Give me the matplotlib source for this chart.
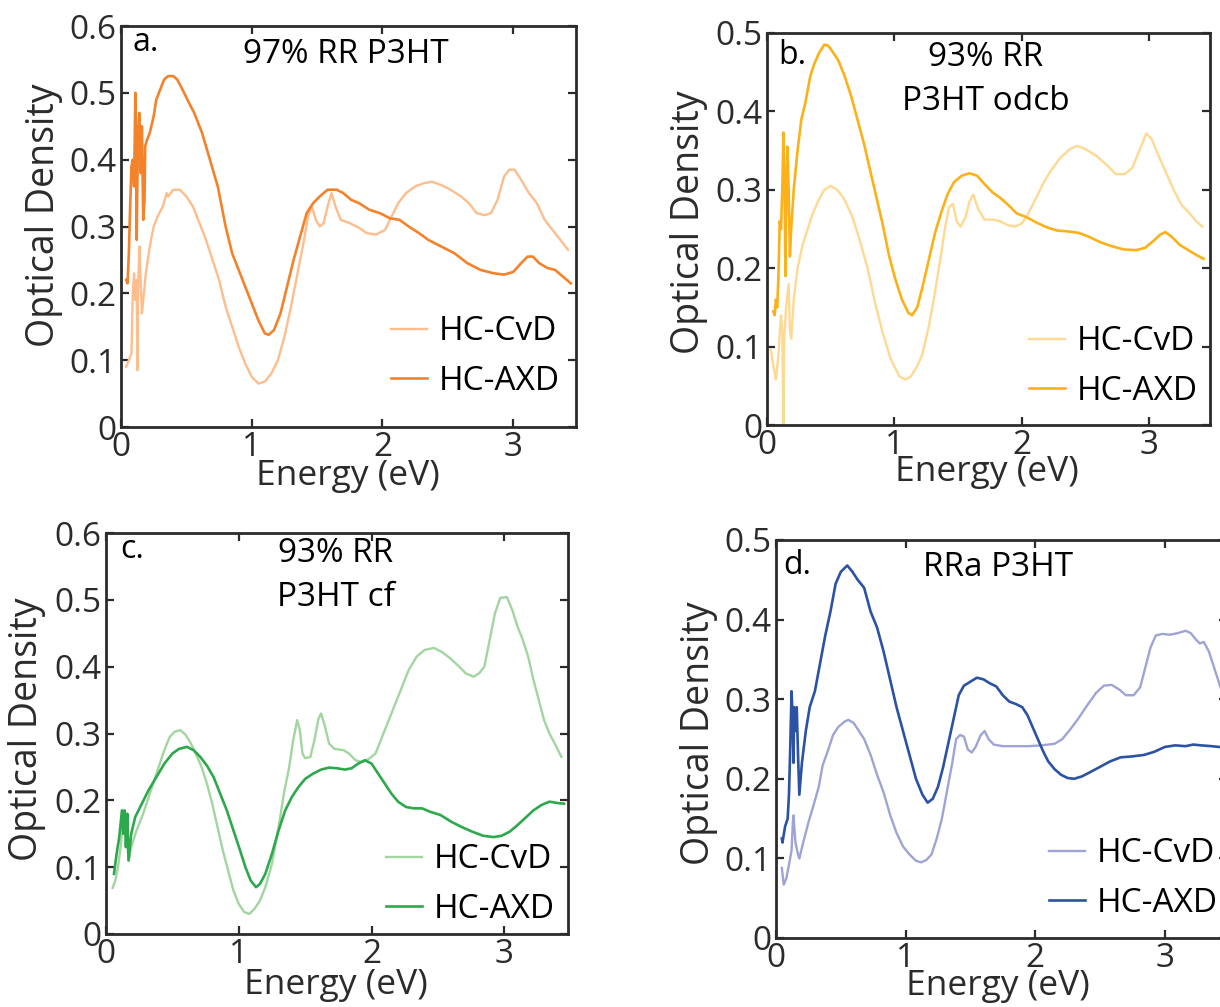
import matplotlib
matplotlib.use("Agg")
import matplotlib.pyplot as plt
from matplotlib.ticker import FuncFormatter

plt.rcParams['font.family'] = ['Open Sans', 'DejaVu Sans']

# ---- spectra (energy in eV, optical density) ----
a_cvd_e = [0.04, 0.06, 0.08, 0.09, 0.10, 0.11, 0.12, 0.125, 0.13, 0.14, 0.15, 0.16, 0.17, 0.19, 0.22,
           0.25, 0.28, 0.32, 0.35, 0.36, 0.40, 0.45, 0.50, 0.55, 0.60, 0.65, 0.70, 0.75, 0.80, 0.85,
           0.90, 0.95, 1.00, 1.05, 1.10, 1.15, 1.20, 1.25, 1.30, 1.35, 1.40, 1.43, 1.46, 1.49, 1.52,
           1.55, 1.58, 1.61, 1.64, 1.68, 1.75, 1.82, 1.88, 1.95, 2.02, 2.07, 2.12, 2.18, 2.25, 2.32,
           2.38, 2.45, 2.52, 2.60, 2.66, 2.72, 2.78, 2.83, 2.88, 2.93, 2.97, 3.01, 3.06, 3.12, 3.18,
           3.24, 3.30, 3.36, 3.42]
a_cvd_od = [0.09, 0.10, 0.11, 0.20, 0.23, 0.19, 0.22, 0.085, 0.20, 0.27, 0.22, 0.17, 0.19, 0.23, 0.27,
            0.30, 0.315, 0.33, 0.35, 0.345, 0.355, 0.355, 0.345, 0.33, 0.305, 0.28, 0.25, 0.22, 0.18, 0.15,
            0.12, 0.095, 0.075, 0.065, 0.068, 0.08, 0.10, 0.135, 0.18, 0.23, 0.28, 0.315, 0.33, 0.31, 0.30,
            0.305, 0.33, 0.35, 0.33, 0.31, 0.305, 0.298, 0.29, 0.288, 0.295, 0.315, 0.335, 0.35, 0.36, 0.365,
            0.367, 0.362, 0.355, 0.345, 0.335, 0.32, 0.317, 0.32, 0.34, 0.375, 0.385, 0.385, 0.37, 0.35, 0.335,
            0.31, 0.295, 0.28, 0.265]

a_axd_e = [0.04, 0.05, 0.06, 0.07, 0.08, 0.09, 0.10, 0.11, 0.115, 0.12, 0.13, 0.14, 0.15, 0.16, 0.17,
           0.18, 0.185, 0.20, 0.22, 0.25, 0.27, 0.30, 0.33, 0.36, 0.40, 0.43, 0.47, 0.52, 0.56, 0.62,
           0.68, 0.74, 0.80, 0.85, 0.90, 0.95, 1.00, 1.05, 1.10, 1.13, 1.17, 1.22, 1.27, 1.32, 1.37,
           1.42, 1.47, 1.52, 1.58, 1.65, 1.70, 1.76, 1.82, 1.90, 1.98, 2.06, 2.13, 2.20, 2.28, 2.35,
           2.45, 2.55, 2.65, 2.75, 2.85, 2.93, 3.00, 3.06, 3.11, 3.15, 3.20, 3.26, 3.32, 3.38, 3.44]
a_axd_od = [0.22, 0.215, 0.26, 0.33, 0.39, 0.40, 0.36, 0.50, 0.42, 0.28, 0.44, 0.47, 0.38, 0.45, 0.31,
            0.34, 0.42, 0.43, 0.44, 0.465, 0.49, 0.505, 0.52, 0.525, 0.525, 0.52, 0.505, 0.485, 0.47, 0.44,
            0.40, 0.36, 0.30, 0.26, 0.235, 0.21, 0.185, 0.16, 0.14, 0.138, 0.145, 0.17, 0.21, 0.25, 0.285,
            0.32, 0.335, 0.345, 0.355, 0.355, 0.35, 0.34, 0.335, 0.325, 0.32, 0.312, 0.31, 0.30, 0.29, 0.28,
            0.27, 0.26, 0.245, 0.235, 0.23, 0.228, 0.232, 0.245, 0.255, 0.255, 0.245, 0.238, 0.235, 0.225, 0.215]

b_cvd_e = [0.03, 0.05, 0.07, 0.09, 0.10, 0.11, 0.12, 0.13, 0.135, 0.15, 0.17, 0.18, 0.19, 0.21, 0.24,
           0.28, 0.32, 0.36, 0.40, 0.45, 0.50, 0.55, 0.60, 0.67, 0.73, 0.79, 0.85, 0.91, 0.97, 1.04,
           1.09, 1.13, 1.18, 1.22, 1.27, 1.31, 1.36, 1.40, 1.43, 1.46, 1.49, 1.52, 1.56, 1.59, 1.62,
           1.66, 1.71, 1.77, 1.83, 1.89, 1.95, 2.00, 2.04, 2.10, 2.16, 2.22, 2.30, 2.38, 2.44, 2.50,
           2.59, 2.66, 2.74, 2.81, 2.87, 2.93, 2.98, 3.02, 3.08, 3.14, 3.20, 3.26, 3.32, 3.37, 3.42]
b_cvd_od = [0.096, 0.075, 0.058, 0.09, 0.115, 0.14, 0.12, 0.0, 0.11, 0.15, 0.18, 0.12, 0.11, 0.16, 0.20,
            0.23, 0.25, 0.27, 0.285, 0.30, 0.305, 0.30, 0.29, 0.266, 0.235, 0.20, 0.155, 0.117, 0.085, 0.062,
            0.058, 0.062, 0.075, 0.09, 0.125, 0.16, 0.21, 0.253, 0.278, 0.282, 0.26, 0.253, 0.265, 0.285, 0.294,
            0.275, 0.262, 0.262, 0.26, 0.255, 0.253, 0.257, 0.266, 0.285, 0.305, 0.322, 0.34, 0.352, 0.356, 0.352,
            0.343, 0.333, 0.32, 0.32, 0.328, 0.352, 0.372, 0.365, 0.342, 0.32, 0.298, 0.28, 0.27, 0.26, 0.253]

b_axd_e = [0.05, 0.06, 0.07, 0.08, 0.09, 0.10, 0.11, 0.12, 0.13, 0.14, 0.145, 0.15, 0.16, 0.17, 0.18,
           0.19, 0.21, 0.24, 0.27, 0.30, 0.34, 0.37, 0.41, 0.45, 0.48, 0.52, 0.56, 0.61, 0.66, 0.71,
           0.76, 0.81, 0.86, 0.91, 0.96, 1.01, 1.06, 1.11, 1.14, 1.18, 1.22, 1.27, 1.32, 1.37, 1.42,
           1.47, 1.53, 1.59, 1.65, 1.71, 1.77, 1.83, 1.90, 1.96, 2.04, 2.12, 2.20, 2.28, 2.36, 2.45,
           2.53, 2.62, 2.71, 2.80, 2.90, 2.97, 3.03, 3.09, 3.13, 3.18, 3.24, 3.30, 3.36, 3.43]
b_axd_od = [0.145, 0.14, 0.16, 0.15, 0.19, 0.26, 0.25, 0.30, 0.373, 0.28, 0.19, 0.27, 0.355, 0.30, 0.215,
            0.25, 0.30, 0.35, 0.39, 0.41, 0.445, 0.46, 0.475, 0.485, 0.484, 0.475, 0.465, 0.445, 0.42, 0.39,
            0.36, 0.325, 0.29, 0.255, 0.215, 0.185, 0.16, 0.143, 0.14, 0.15, 0.175, 0.21, 0.245, 0.272, 0.295,
            0.31, 0.318, 0.321, 0.318, 0.307, 0.297, 0.29, 0.28, 0.27, 0.265, 0.258, 0.252, 0.248, 0.247, 0.245,
            0.24, 0.233, 0.228, 0.224, 0.223, 0.226, 0.234, 0.243, 0.246, 0.24, 0.23, 0.224, 0.218, 0.212]

c_cvd_e = [0.05, 0.07, 0.09, 0.11, 0.13, 0.14, 0.15, 0.17, 0.19, 0.23, 0.28, 0.33, 0.38, 0.43, 0.48,
           0.52, 0.56, 0.60, 0.64, 0.68, 0.72, 0.76, 0.80, 0.84, 0.88, 0.92, 0.96, 1.00, 1.04, 1.08,
           1.12, 1.16, 1.20, 1.25, 1.30, 1.34, 1.38, 1.41, 1.44, 1.46, 1.48, 1.50, 1.54, 1.57, 1.60,
           1.62, 1.65, 1.68, 1.72, 1.79, 1.83, 1.88, 1.93, 1.98, 2.03, 2.08, 2.15, 2.22, 2.28, 2.34,
           2.40, 2.47, 2.53, 2.59, 2.65, 2.71, 2.77, 2.81, 2.85, 2.89, 2.93, 2.97, 3.02, 3.06, 3.10,
           3.14, 3.18, 3.22, 3.26, 3.30, 3.34, 3.38, 3.43]
c_cvd_od = [0.069, 0.08, 0.10, 0.13, 0.17, 0.15, 0.165, 0.11, 0.13, 0.155, 0.18, 0.21, 0.24, 0.27, 0.295,
            0.303, 0.305, 0.298, 0.285, 0.268, 0.25, 0.225, 0.195, 0.16, 0.125, 0.095, 0.065, 0.045, 0.033, 0.03,
            0.038, 0.05, 0.07, 0.105, 0.16, 0.21, 0.25, 0.29, 0.32, 0.305, 0.27, 0.263, 0.265, 0.29, 0.322,
            0.33, 0.31, 0.285, 0.277, 0.275, 0.27, 0.26, 0.257, 0.262, 0.27, 0.295, 0.33, 0.365, 0.395, 0.415,
            0.425, 0.428, 0.422, 0.413, 0.402, 0.39, 0.385, 0.39, 0.40, 0.44, 0.48, 0.503, 0.504, 0.485, 0.46,
            0.44, 0.415, 0.38, 0.35, 0.32, 0.30, 0.285, 0.265]

c_axd_e = [0.06, 0.08, 0.10, 0.12, 0.13, 0.14, 0.15, 0.16, 0.17, 0.19, 0.22, 0.27, 0.32, 0.38, 0.44,
           0.50, 0.55, 0.61, 0.66, 0.71, 0.76, 0.81, 0.86, 0.91, 0.96, 1.01, 1.05, 1.09, 1.13, 1.16,
           1.20, 1.25, 1.30, 1.35, 1.40, 1.45, 1.50, 1.56, 1.62, 1.68, 1.74, 1.80, 1.85, 1.90, 1.95,
           2.00, 2.05, 2.10, 2.15, 2.20, 2.26, 2.32, 2.38, 2.44, 2.52, 2.60, 2.68, 2.76, 2.84, 2.92,
           2.98, 3.04, 3.10, 3.16, 3.22, 3.28, 3.34, 3.40, 3.45]
c_axd_od = [0.09, 0.12, 0.145, 0.185, 0.15, 0.185, 0.13, 0.18, 0.11, 0.15, 0.175, 0.195, 0.215, 0.235, 0.255,
            0.27, 0.277, 0.28, 0.275, 0.265, 0.252, 0.235, 0.21, 0.185, 0.155, 0.125, 0.10, 0.08, 0.07, 0.075,
            0.09, 0.12, 0.155, 0.185, 0.205, 0.22, 0.232, 0.24, 0.246, 0.249, 0.248, 0.246, 0.248, 0.255, 0.26,
            0.255, 0.24, 0.225, 0.21, 0.198, 0.19, 0.188, 0.188, 0.183, 0.178, 0.168, 0.16, 0.153, 0.147, 0.145,
            0.147, 0.153, 0.163, 0.174, 0.185, 0.193, 0.198, 0.196, 0.195]

d_cvd_e = [0.045, 0.06, 0.08, 0.10, 0.12, 0.13, 0.135, 0.15, 0.17, 0.18, 0.21, 0.25, 0.29, 0.33, 0.36,
           0.40, 0.44, 0.48, 0.53, 0.56, 0.60, 0.64, 0.68, 0.73, 0.78, 0.83, 0.88, 0.93, 0.98, 1.03,
           1.08, 1.12, 1.16, 1.20, 1.24, 1.28, 1.32, 1.36, 1.39, 1.42, 1.45, 1.48, 1.51, 1.54, 1.58,
           1.61, 1.64, 1.68, 1.75, 1.85, 1.95, 2.05, 2.15, 2.21, 2.27, 2.33, 2.40, 2.47, 2.53, 2.59,
           2.65, 2.70, 2.76, 2.81, 2.85, 2.89, 2.93, 2.98, 3.04, 3.10, 3.16, 3.20, 3.24, 3.27, 3.30,
           3.34, 3.38, 3.42, 3.45]
d_cvd_od = [0.088, 0.067, 0.075, 0.092, 0.11, 0.145, 0.154, 0.12, 0.105, 0.10, 0.12, 0.145, 0.167, 0.19, 0.217,
            0.235, 0.255, 0.265, 0.272, 0.274, 0.27, 0.26, 0.25, 0.23, 0.205, 0.183, 0.155, 0.132, 0.115, 0.105,
            0.097, 0.095, 0.098, 0.105, 0.125, 0.15, 0.185, 0.22, 0.25, 0.255, 0.253, 0.237, 0.233, 0.24, 0.255,
            0.26, 0.25, 0.243, 0.241, 0.241, 0.241, 0.242, 0.244, 0.25, 0.262, 0.275, 0.292, 0.308, 0.317, 0.318,
            0.312, 0.305, 0.305, 0.315, 0.34, 0.365, 0.38, 0.382, 0.381, 0.383, 0.386, 0.383, 0.375, 0.37, 0.372,
            0.36, 0.34, 0.32, 0.305]

d_axd_e = [0.045, 0.05, 0.07, 0.09, 0.10, 0.11, 0.12, 0.13, 0.135, 0.14, 0.15, 0.16, 0.17, 0.18, 0.20,
           0.23, 0.26, 0.30, 0.34, 0.38, 0.42, 0.46, 0.50, 0.55, 0.59, 0.63, 0.68, 0.73, 0.78, 0.83,
           0.88, 0.93, 0.98, 1.03, 1.08, 1.13, 1.17, 1.21, 1.25, 1.29, 1.33, 1.37, 1.41, 1.45, 1.50,
           1.55, 1.60, 1.65, 1.70, 1.75, 1.80, 1.85, 1.90, 1.94, 1.98, 2.02, 2.06, 2.10, 2.15, 2.20,
           2.25, 2.30, 2.36, 2.42, 2.50, 2.58, 2.66, 2.74, 2.84, 2.92, 3.00, 3.08, 3.16, 3.22, 3.28,
           3.36, 3.42, 3.48]
d_axd_od = [0.125, 0.12, 0.14, 0.15, 0.18, 0.24, 0.31, 0.27, 0.22, 0.29, 0.26, 0.29, 0.23, 0.18, 0.22,
            0.26, 0.29, 0.31, 0.345, 0.38, 0.41, 0.445, 0.46, 0.468, 0.46, 0.45, 0.44, 0.41, 0.39, 0.36,
            0.325, 0.29, 0.26, 0.23, 0.20, 0.18, 0.17, 0.175, 0.19, 0.215, 0.245, 0.275, 0.305, 0.317, 0.322,
            0.327, 0.325, 0.32, 0.316, 0.305, 0.297, 0.294, 0.29, 0.28, 0.265, 0.25, 0.235, 0.222, 0.212, 0.205,
            0.201, 0.20, 0.203, 0.208, 0.215, 0.222, 0.227, 0.228, 0.23, 0.234, 0.24, 0.242, 0.241, 0.243, 0.242,
            0.241, 0.24, 0.238]

labels = ['HC-CvD', 'HC-AXD']

W, H = 1220, 1007
fig = plt.figure(figsize=(W / 100, H / 100), dpi=100)

INK = '#2b2b2b'
FS = 24


def px_axes(left, right, top, bottom):
    return fig.add_axes([left / W, 1 - bottom / H, (right - left) / W, (bottom - top) / H])


def panel(box, ymax, cvd, axd, colors, tag, title, title_xy, lab_x, lab_y, leg_anchor):
    left, right, top, bottom = box
    ax = px_axes(left, right, top, bottom)
    ax.plot(cvd[0], cvd[1], color=colors[0], lw=1.7, label=labels[0])
    ax.plot(axd[0], axd[1], color=colors[1], lw=1.9, label=labels[1])
    ax.set_xlim(0, 3.48)
    ax.set_ylim(0, ymax)
    ax.set_xticks([0, 1, 2, 3])
    ax.set_yticks([i / 10 for i in range(int(round(ymax * 10)) + 1)])
    ax.yaxis.set_major_formatter(FuncFormatter(lambda v, p: '%g' % round(v, 2)))
    ax.tick_params(direction='in', length=6, width=1.6, color=INK, labelcolor=INK,
                   labelsize=FS, top=True, right=True, pad=3)
    for s in ax.spines.values():
        s.set_linewidth(2.0)
        s.set_color(INK)

    w, h = right - left, bottom - top
    ax.set_xlabel('Energy (eV)', fontsize=FS + 1.5, color=INK, va='center')
    ax.xaxis.set_label_coords((lab_x[0] - left) / w, (bottom - lab_x[1]) / h)
    ax.set_ylabel('Optical Density', fontsize=FS + 3, color=INK, va='center')
    ax.yaxis.set_label_coords((lab_y[0] - left) / w, (bottom - lab_y[1]) / h)

    ax.text((tag[1] - left) / w, (bottom - tag[2]) / h, tag[0], transform=ax.transAxes,
            fontsize=FS - 1, color='black', ha='left', va='center')
    for k, line in enumerate(title):
        ax.text((title_xy[0] - left) / w, (bottom - title_xy[1] - 44 * k) / h, line,
                transform=ax.transAxes, fontsize=FS, color='black', ha='center', va='center')

    ax.legend(loc='lower right', bbox_to_anchor=((leg_anchor[0] - left) / w, (bottom - leg_anchor[1]) / h),
              frameon=False, fontsize=FS, handlelength=1.1, handletextpad=0.35,
              labelspacing=0.5, borderpad=0, borderaxespad=0)
    return ax


panel((121, 576, 26, 427), 0.6, (a_cvd_e, a_cvd_od), (a_axd_e, a_axd_od),
      ('#fdbd8c', '#f3822b'), ('a.', 133, 42), ['97% RR P3HT'], (346, 54),
      (348, 476), (44, 215), (560, 398))

panel((767, 1210, 33, 425), 0.5, (b_cvd_e, b_cvd_od), (b_axd_e, b_axd_od),
      ('#fed993', '#fbb119'), ('b.', 778, 56), ['93% RR', 'P3HT odcb'], (986, 58),
      (987, 472), (689, 222), (1198, 408))

panel((106, 568, 533, 934), 0.6, (c_cvd_e, c_cvd_od), (c_axd_e, c_axd_od),
      ('#a2d59f', '#2ea84c'), ('c.', 120, 550), ['93% RR', 'P3HT cf'], (336, 554),
      (336, 985), (27, 729), (555, 926))

panel((776, 1227, 540, 938), 0.5, (d_cvd_e, d_cvd_od), (d_axd_e, d_axd_od),
      ('#9fa3d5', '#2b52a3'), ('d.', 783, 566), ['RRa P3HT'], (998, 568),
      (998, 986), (699, 733), (1218, 920))

fig.savefig('out.png', dpi=100)
